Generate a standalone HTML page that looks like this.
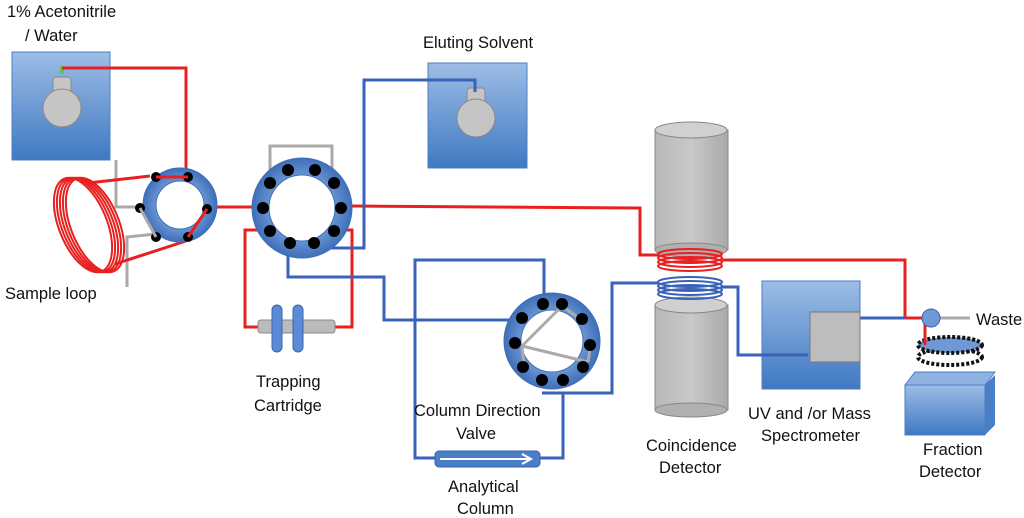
<!DOCTYPE html>
<html><head><meta charset="utf-8"><style>
body{margin:0;background:#fff}
svg{display:block}
text{font-family:"Liberation Sans",sans-serif;font-size:16.5px;fill:#111}
</style></head><body>
<svg width="1024" height="518" viewBox="0 0 1024 518">
<defs>
<linearGradient id="bx" x1="0" y1="0" x2="0" y2="1"><stop offset="0" stop-color="#9dbde6"/><stop offset="1" stop-color="#3f79c2"/></linearGradient>
<linearGradient id="cy" x1="0" y1="0" x2="1" y2="0"><stop offset="0" stop-color="#b8b8b8"/><stop offset="0.5" stop-color="#c8c8c8"/><stop offset="1" stop-color="#a9a9a9"/></linearGradient>
<radialGradient id="vr"><stop offset="0.6" stop-color="#6f9ad8"/><stop offset="1" stop-color="#3f6fb8"/></radialGradient>
</defs>
<rect x="12" y="52" width="98" height="108" fill="url(#bx)" stroke="#4a7fc6"/>
<rect x="428" y="63" width="99" height="105" fill="url(#bx)" stroke="#4a7fc6"/>
<rect x="762" y="281" width="98" height="108" fill="url(#bx)" stroke="#4a7fc6"/>
<g fill="#c5c5c5" stroke="#888">
<rect x="53" y="77" width="18" height="45" rx="3"/><ellipse cx="62" cy="108" rx="19" ry="19"/>
<rect x="467" y="88" width="18" height="45" rx="3"/><ellipse cx="476" cy="118" rx="19" ry="19"/>
</g>
<rect x="60" y="66" width="4" height="8" fill="#5c5"/>
<polygon points="905,385 985,385 985,435 905,435" fill="url(#bx)" stroke="#4a7fc6"/>
<polygon points="985,385 995,375 995,425 985,435" fill="#4a7fc6"/>
<polygon points="905,385 915,372 995,372 985,385" fill="#8fb2e2" stroke="#4a7fc6"/>
<ellipse cx="950" cy="357" rx="32" ry="8" fill="none" stroke="#111" stroke-width="4" stroke-dasharray="3,2"/>
<ellipse cx="950" cy="345" rx="32" ry="8" fill="#6f98d4" stroke="#111" stroke-width="4" stroke-dasharray="3,2"/>
<rect x="655" y="130" width="73" height="120" fill="url(#cy)" stroke="#888"/>
<ellipse cx="691" cy="130" rx="36" ry="8" fill="#d0d0d0" stroke="#888"/>
<ellipse cx="691" cy="250" rx="36" ry="7" fill="#b0b0b0" stroke="#888"/>
<rect x="655" y="305" width="73" height="105" fill="url(#cy)" stroke="#888"/>
<ellipse cx="691" cy="305" rx="36" ry="8" fill="#d0d0d0" stroke="#888"/>
<ellipse cx="691" cy="410" rx="36" ry="7" fill="#b0b0b0" stroke="#888"/>
<g fill="none" stroke="#e82020" stroke-width="2">
<ellipse cx="690" cy="254" rx="32" ry="5"/><ellipse cx="690" cy="258" rx="32" ry="5"/><ellipse cx="690" cy="262" rx="32" ry="5"/><ellipse cx="690" cy="266" rx="32" ry="5"/></g>
<g fill="none" stroke="#3a62b8" stroke-width="2">
<ellipse cx="690" cy="282" rx="32" ry="5"/><ellipse cx="690" cy="286" rx="32" ry="5"/><ellipse cx="690" cy="290" rx="32" ry="5"/><ellipse cx="690" cy="294" rx="32" ry="5"/></g>
<g fill="none" stroke="#e82020" stroke-width="2">
<ellipse cx="83" cy="225" rx="24" ry="50" transform="rotate(-22 83 225)"/>
<ellipse cx="86" cy="225" rx="24" ry="50" transform="rotate(-22 86 225)"/>
<ellipse cx="89" cy="225" rx="24" ry="50" transform="rotate(-22 89 225)"/>
<ellipse cx="92" cy="225" rx="24" ry="50" transform="rotate(-22 92 225)"/>
<ellipse cx="95" cy="225" rx="24" ry="50" transform="rotate(-22 95 225)"/>
</g>
<g fill="none" stroke="#aaa" stroke-width="3">
<polyline points="116,160 116,207 140,207"/>
<polyline points="127,287 127,237 156,234"/>
<polyline points="270,175 270,146 332,146 332,175"/>
<polyline points="935,318 970,318"/>
</g>
<g fill="none" stroke="#e82020" stroke-width="3">
<polyline points="62,68 186,68 186,176"/>
<line x1="88" y1="183" x2="150" y2="176"/>
<line x1="115" y1="264" x2="186" y2="241"/>
<line x1="217" y1="207" x2="252" y2="207"/>
<polyline points="352,206 640,208 640,255 660,255"/>
<polyline points="722,260 905,260 905,318 940,318"/>
<line x1="925" y1="318" x2="925" y2="345"/>
<polyline points="272,230 245,230 245,327 260,327"/>
<polyline points="335,327 352,327 352,230 340,230"/>
</g>
<g fill="none" stroke="#3a62b8" stroke-width="3">
<polyline points="315,248 364,248 364,80 475,80 475,92"/>
<polyline points="288,245 288,277 384,277 384,320 520,320"/>
<polyline points="544,300 544,260 415,260 415,458 435,458"/>
<polyline points="540,458 563,458 563,393"/>
<polyline points="542,393 542,393 612,393 612,283 658,283"/>
<polyline points="722,287 738,287 738,355 808,355"/>
<line x1="860" y1="318" x2="905" y2="318"/>
</g>
<rect x="810" y="312" width="50" height="50" fill="#bdbdbd" stroke="#777"/>
<circle cx="931" cy="318" r="9" fill="#6f98d4" stroke="#3a62b8"/>
<circle cx="180" cy="205" r="37" fill="url(#vr)" stroke="#3f6fb8"/><circle cx="180" cy="205" r="24" fill="#fff" stroke="#3f6fb8"/>
<g fill="#000"><circle cx="156" cy="177" r="5"/><circle cx="188" cy="177" r="5"/><circle cx="140" cy="208" r="5"/><circle cx="207" cy="209" r="5"/><circle cx="156" cy="237" r="5"/><circle cx="188" cy="237" r="5"/></g>
<g stroke-width="3"><line x1="156" y1="177" x2="188" y2="177" stroke="#e82020"/><line x1="207" y1="209" x2="188" y2="237" stroke="#e82020"/><line x1="140" y1="208" x2="156" y2="237" stroke="#aaa"/></g>
<circle cx="302" cy="208" r="50" fill="url(#vr)" stroke="#3f6fb8"/><circle cx="302" cy="208" r="33" fill="#fff" stroke="#3f6fb8"/>
<g fill="#000"><circle cx="288" cy="170" r="6"/><circle cx="315" cy="170" r="6"/><circle cx="270" cy="183" r="6"/><circle cx="334" cy="183" r="6"/><circle cx="263" cy="208" r="6"/><circle cx="341" cy="208" r="6"/><circle cx="270" cy="231" r="6"/><circle cx="334" cy="231" r="6"/><circle cx="290" cy="243" r="6"/><circle cx="314" cy="243" r="6"/></g>
<rect x="258" y="320" width="77" height="13" rx="3" fill="#bbb" stroke="#888"/>
<rect x="272" y="305" width="10" height="47" rx="5" fill="#5b8bd2" stroke="#3a62b8"/>
<rect x="293" y="305" width="10" height="47" rx="5" fill="#5b8bd2" stroke="#3a62b8"/>
<circle cx="552" cy="341" r="48" fill="url(#vr)" stroke="#3f6fb8"/><circle cx="552" cy="341" r="31" fill="#fff" stroke="#3f6fb8"/>
<g stroke="#aaa" stroke-width="3"><line x1="562" y1="306" x2="580" y2="319"/><line x1="562" y1="306" x2="522" y2="346"/><line x1="522" y1="346" x2="588" y2="362"/><line x1="522" y1="346" x2="524" y2="366"/><line x1="588" y1="362" x2="590" y2="348"/></g>
<g fill="#000"><circle cx="543" cy="304" r="6"/><circle cx="562" cy="304" r="6"/><circle cx="522" cy="318" r="6"/><circle cx="582" cy="319" r="6"/><circle cx="515" cy="343" r="6"/><circle cx="590" cy="345" r="6"/><circle cx="523" cy="367" r="6"/><circle cx="583" cy="367" r="6"/><circle cx="542" cy="380" r="6"/><circle cx="563" cy="380" r="6"/></g>
<rect x="435" y="451" width="105" height="16" rx="4" fill="#4a7fc6" stroke="#3a62b8"/>
<line x1="440" y1="459" x2="530" y2="459" stroke="#fff" stroke-width="2"/>
<polyline points="522,454 531,459 522,464" fill="none" stroke="#fff" stroke-width="2"/>
<text x="7" y="17">1% Acetonitrile</text><text x="25" y="41">/ Water</text>
<text x="423" y="48">Eluting Solvent</text>
<text x="5" y="299">Sample loop</text>
<text x="256" y="387">Trapping</text><text x="254" y="411">Cartridge</text>
<text x="414" y="416">Column Direction</text><text x="456" y="439">Valve</text>
<text x="448" y="492">Analytical</text><text x="457" y="514">Column</text>
<text x="646" y="451">Coincidence</text><text x="659" y="473">Detector</text>
<text x="748" y="419">UV and /or Mass</text><text x="761" y="441">Spectrometer</text>
<text x="923" y="455">Fraction</text><text x="919" y="477">Detector</text>
<text x="976" y="325">Waste</text>
</svg>
</body></html>
